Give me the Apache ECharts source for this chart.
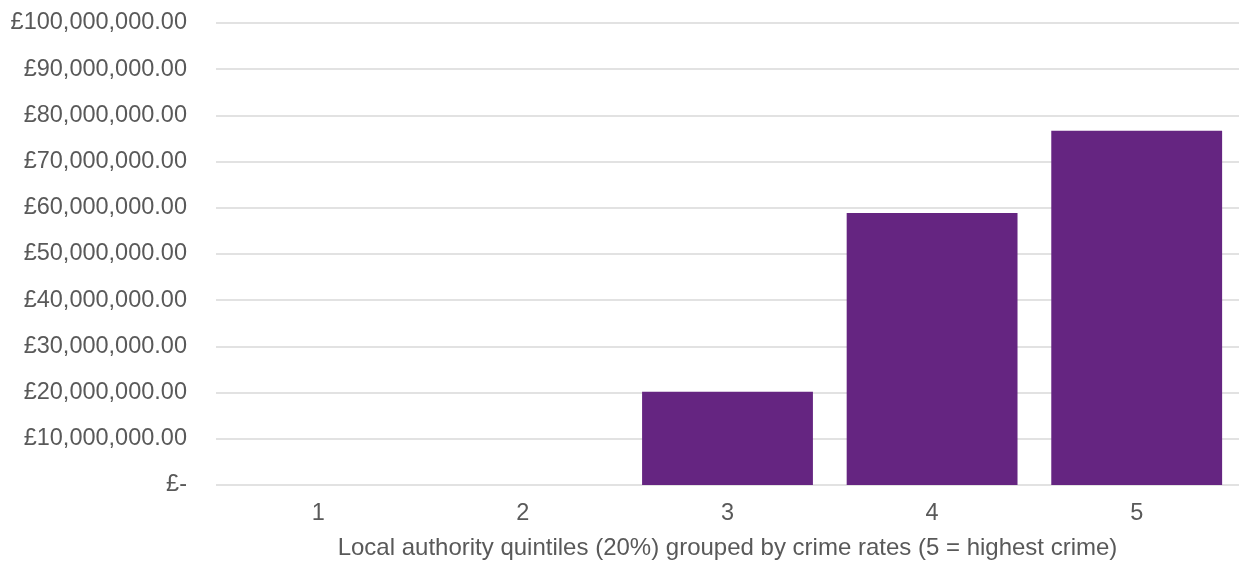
<!DOCTYPE html>
<html>
<head>
<meta charset="utf-8">
<script src="https://cdn.jsdelivr.net/npm/echarts@6/dist/echarts.min.js"></script>
<style>html,body{margin:0;padding:0;background:#fff;}#c{width:1239px;height:565px;}</style>
</head>
<body>
<div id="c"></div>
<script>
const categories = ['1', '2', '3', '4', '5'];
const values = [0, 0, 20200000, 58900000, 76700000];
const xAxisTitle = 'Local authority quintiles (20%) grouped by crime rates (5 = highest crime)';
const yMin = 0, yMax = 100000000, yStep = 10000000;

function fmt(v) {
  if (v === 0) return '£-';
  return '£' + v.toLocaleString('en-GB', {minimumFractionDigits: 2, maximumFractionDigits: 2});
}

const chart = echarts.init(document.getElementById('c'));
const font = 'Liberation Sans, Arial, sans-serif';
chart.setOption({
  animation: false,
  grid: {left: 216, right: -2, top: 23, bottom: 77, containLabel: false},
  xAxis: {
    type: 'category',
    data: categories,
    name: xAxisTitle,
    nameLocation: 'middle',
    nameGap: 51,
    nameTextStyle: {color: '#595959', fontSize: 24, fontFamily: font},
    axisLine: {show: false},
    axisTick: {show: false},
    axisLabel: {color: '#595959', fontSize: 23.5, fontFamily: font, margin: 17}
  },
  yAxis: {
    type: 'value',
    min: yMin, max: yMax, interval: yStep,
    axisLine: {show: false},
    axisTick: {show: false},
    splitLine: {lineStyle: {color: '#d9d9d9', width: 1.5}},
    axisLabel: {color: '#595959', fontSize: 23.5, fontFamily: font, margin: 29, formatter: fmt}
  },
  series: [{
    type: 'bar',
    data: values,
    barCategoryGap: '16.5%',
    itemStyle: {color: '#652581'}
  }]
});
</script>
</body>
</html>
